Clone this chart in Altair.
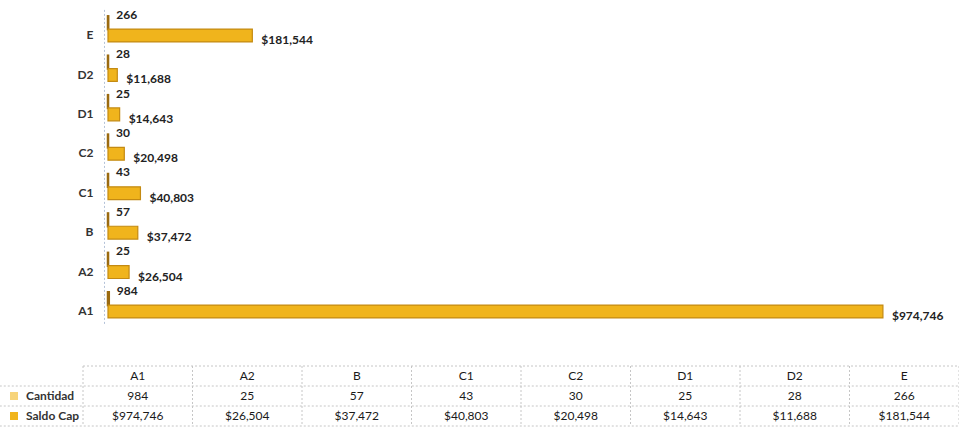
import altair as alt
import pandas as pd

categories = ["A1", "A2", "B", "C1", "C2", "D1", "D2", "E"]
cantidad = [984, 25, 57, 43, 30, 25, 28, 266]
saldo_cap = [974746, 26504, 37472, 40803, 20498, 14643, 11688, 181544]
series = ["Cantidad", "Saldo Cap"]
fill_colors = ["#F7D47A", "#F0B41C"]
edge_colors = ["#9A6A10", "#C48A12"]
edge_widths = [2.5, 1.2]
table_row_names = ["hdr", "Cantidad", "Saldo Cap"]

FONT = "Lato"

# ---------------- bar chart data ----------------
rows = []
for c, q, s in zip(categories, cantidad, saldo_cap):
    rows.append({"cat": c, "serie": "Cantidad", "valor": q, "label": f"{q:,}"})
    rows.append({"cat": c, "serie": "Saldo Cap", "valor": s, "label": f"${s:,}"})
df = pd.DataFrame(rows)

cat_order = categories[::-1]

y_enc = alt.Y(
    "cat:N",
    sort=cat_order,
    scale=alt.Scale(range=[9.4, 324.8], paddingInner=0.35, paddingOuter=0.175),
    axis=alt.Axis(
        title=None, ticks=False, labelFont=FONT, labelFontWeight="bold",
        labelFontSize=12, labelColor="#333333", labelPadding=11, labelOffset=6,
        domainColor="#B4C2D8", domainDash=[2, 2], offset=-104,
    ),
)
x_enc = alt.X("valor:Q", scale=alt.Scale(domain=[0, 1000000], range=[108, 903]), axis=None)
yoff = alt.YOffset("serie:N", sort=series, scale=alt.Scale(paddingInner=0, paddingOuter=0))

base = alt.Chart(df)
is_cant = alt.datum.serie == series[0]

bars = base.mark_bar().encode(
    x=x_enc,
    y=y_enc,
    yOffset=yoff,
    color=alt.Color(
        "serie:N",
        scale=alt.Scale(domain=series, range=fill_colors),
        legend=alt.Legend(
            title=None, orient="none", legendX=8, legendY=390, padding=0,
            symbolType="square", symbolSize=64, symbolStrokeWidth=0,
            labelFont=FONT, labelFontWeight="bold", labelFontSize=12,
            labelColor="#333333", rowPadding=8, labelOffset=6,
        ),
    ),
    stroke=alt.condition(is_cant, alt.value(edge_colors[0]), alt.value(edge_colors[1])),
    strokeWidth=alt.condition(is_cant, alt.value(edge_widths[0]), alt.value(edge_widths[1])),
)

lab_cant = base.transform_filter(is_cant).mark_text(
    align="left", baseline="middle", dx=8, dy=-8, font=FONT, fontWeight="bold",
    fontSize=12, color="#222222",
).encode(x=x_enc, y=y_enc, yOffset=yoff, text="label:N")

lab_saldo = base.transform_filter(alt.datum.serie == series[1]).mark_text(
    align="left", baseline="middle", dx=9, dy=4.5, font=FONT, fontWeight="bold",
    fontSize=12, color="#222222",
).encode(x=x_enc, y=y_enc, yOffset=yoff, text="label:N")

top = alt.layer(bars, lab_cant, lab_saldo)

# ---------------- data table ----------------
trows = []
for i, (c, q, s) in enumerate(zip(categories, cantidad, saldo_cap)):
    trows.append({"col": i, "row": 0, "txt": c})
    trows.append({"col": i, "row": 1, "txt": f"{q:,}"})
    trows.append({"col": i, "row": 2, "txt": f"${s:,}"})
tdf = pd.DataFrame(trows)

n_cols = len(categories)
n_rows = len(table_row_names)
label_col = -0.76  # left edge of the row-name column, in column units

tx_scale = alt.Scale(domain=[0, n_cols], range=[83, 959])
ty_scale = alt.Scale(domain=[0, n_rows], range=[366, 426])

table_text = alt.Chart(tdf).transform_calculate(
    cx="datum.col + 0.5", cy="datum.row + 0.5"
).mark_text(
    font=FONT, fontSize=12, color="#1a1a1a", baseline="middle"
).encode(
    x=alt.X("cx:Q", scale=tx_scale, axis=None),
    y=alt.Y("cy:Q", scale=ty_scale, axis=None),
    text="txt:N",
)

vlines = pd.DataFrame({"x": list(range(n_cols + 1)), "y": [0] * (n_cols + 1), "y2": [n_rows] * (n_cols + 1)})
hlines = pd.DataFrame({
    "y": list(range(n_rows + 1)),
    "x": [0] + [label_col] * n_rows,
    "x2": [n_cols] * (n_rows + 1),
})

rule_style = dict(color="#C6C6C6", strokeDash=[2, 2], strokeWidth=1)
v_rules = alt.Chart(vlines).mark_rule(**rule_style).encode(
    x=alt.X("x:Q", scale=tx_scale, axis=None),
    y=alt.Y("y:Q", scale=ty_scale, axis=None),
    y2="y2:Q",
)
h_rules = alt.Chart(hlines).mark_rule(**rule_style).encode(
    x=alt.X("x:Q", scale=tx_scale, axis=None),
    x2="x2:Q",
    y=alt.Y("y:Q", scale=ty_scale, axis=None),
)

tbl = alt.layer(v_rules, h_rules, table_text)

chart = alt.layer(top, tbl).resolve_scale(x="independent", y="independent").properties(
    width=959, height=428,
    autosize=alt.AutoSizeParams(type="none"),
    padding=0,
    background="white",
).configure_view(stroke=None)

chart.save("out.html", embed_options={"renderer": "svg", "actions": False})
